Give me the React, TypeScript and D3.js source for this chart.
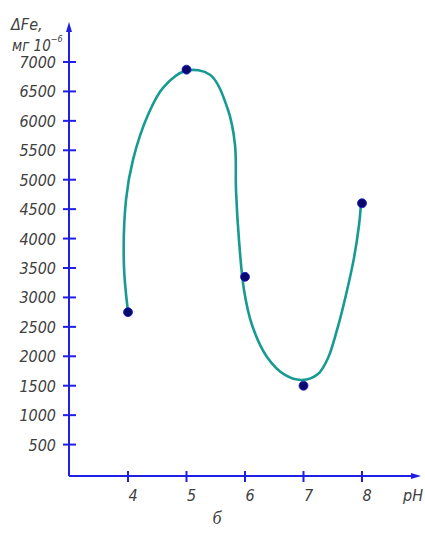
import React, { useEffect, useRef } from "react";
import * as d3 from "d3";

// measured points
const phValues = [4, 5, 6, 7, 8];
const feValues = [2750, 6870, 3350, 1500, 4600];

// hand drawn trend curve (pH, ΔFe)
const curvePh = [4.0, 3.93, 3.966, 4.085, 4.342, 4.598, 4.991, 5.402, 5.709, 5.829, 5.846, 5.897, 5.983, 6.12, 6.376, 6.684, 6.974, 7.248, 7.419, 7.573, 7.726, 7.863, 7.949, 7.983];
const curveFe = [2754, 3553, 4658, 5338, 6103, 6562, 6851, 6783, 6188, 5593, 4828, 3977, 3127, 2532, 1989, 1683, 1598, 1700, 1971, 2447, 3042, 3672, 4231, 4588];

const yTicks = [500, 1000, 1500, 2000, 2500, 3000, 3500, 4000, 4500, 5000, 5500, 6000, 6500, 7000];
const xTicks = [4, 5, 6, 7, 8];

const FONT = "'DejaVu Sans Condensed', 'Liberation Sans Narrow', sans-serif";
const AXIS = "#1f1fe6";
const TEXT = "#404040";

const App = () => {
  const ref = useRef<HTMLDivElement>(null);

  useEffect(() => {
    const el = ref.current;
    if (!el) return;
    const width = 425;
    const height = 533;
    d3.select(el).select("svg").remove();
    const svg = d3
      .select(el)
      .append("svg")
      .attr("width", width)
      .attr("height", height)
      .style("position", "absolute")
      .style("left", "0px")
      .style("top", "0px")
      .style("background", "#fff");

    const originX = 69;
    const originY = 476;
    const x = d3.scaleLinear().domain([4, 8]).range([128, 362]);
    const y = d3.scaleLinear().domain([0, 7000]).range([474, 62]);

    const label = (sel: any, size: number) =>
      sel
        .attr("font-family", FONT)
        .attr("font-style", "italic")
        .attr("font-size", size)
        .attr("fill", TEXT);

    // axes
    svg.append("line")
      .attr("x1", originX).attr("y1", originY)
      .attr("x2", originX).attr("y2", 30)
      .attr("stroke", AXIS).attr("stroke-width", 2);
    svg.append("path")
      .attr("d", `M${originX - 3},32 L${originX},22 L${originX + 3},32 Z`)
      .attr("fill", AXIS);
    svg.append("line")
      .attr("x1", originX).attr("y1", originY)
      .attr("x2", 413).attr("y2", originY)
      .attr("stroke", AXIS).attr("stroke-width", 2);
    svg.append("path")
      .attr("d", `M411,${originY - 3} L421,${originY} L411,${originY + 3} Z`)
      .attr("fill", AXIS);

    // y ticks
    const yg = svg.append("g");
    yg.selectAll("line")
      .data(yTicks)
      .enter()
      .append("line")
      .attr("x1", originX - 6).attr("x2", originX + 7)
      .attr("y1", (d) => y(d)).attr("y2", (d) => y(d))
      .attr("stroke", AXIS).attr("stroke-width", 2);
    label(
      yg.selectAll("text")
        .data(yTicks)
        .enter()
        .append("text")
        .attr("x", 56)
        .attr("y", (d) => y(d) + 6)
        .attr("text-anchor", "end"),
      16
    ).text((d) => d);

    // x ticks
    const xg = svg.append("g");
    xg.selectAll("line")
      .data(xTicks)
      .enter()
      .append("line")
      .attr("x1", (d) => x(d)).attr("x2", (d) => x(d))
      .attr("y1", originY - 5).attr("y2", originY + 6)
      .attr("stroke", AXIS).attr("stroke-width", 2);
    label(
      xg.selectAll("text")
        .data(xTicks)
        .enter()
        .append("text")
        .attr("x", (d) => x(d) + 5)
        .attr("y", 501)
        .attr("text-anchor", "middle"),
      16
    ).text((d) => d);

    label(svg.append("text").attr("x", 403).attr("y", 501), 16).text("pH");

    // axis title
    label(svg.append("text").attr("x", 11).attr("y", 30), 16).text("ΔFe,");
    const t2 = label(svg.append("text").attr("x", 12).attr("y", 51), 15);
    t2.append("tspan").text("мг 10");
    t2.append("tspan").attr("dy", -9).attr("font-size", 9).text("−6");

    // curve
    const curveData = curvePh.map((p, i) => [p, curveFe[i]] as [number, number]);
    const line = d3
      .line<[number, number]>()
      .x((d) => x(d[0]))
      .y((d) => y(d[1]))
      .curve(d3.curveCatmullRom.alpha(0.5));
    svg.append("path")
      .datum(curveData)
      .attr("d", line)
      .attr("fill", "none")
      .attr("stroke", "#169a91")
      .attr("stroke-width", 2.6)
      .attr("stroke-linecap", "round");

    // points
    svg.append("g")
      .selectAll("circle")
      .data(phValues)
      .enter()
      .append("circle")
      .attr("cx", (d) => x(d))
      .attr("cy", (d, i) => y(feValues[i]))
      .attr("r", 4.5)
      .attr("fill", "#0a0a6e")
      .attr("stroke", "#1a1ad0")
      .attr("stroke-width", 0.8);

    // caption
    svg.append("text")
      .attr("x", 217).attr("y", 524)
      .attr("text-anchor", "middle")
      .attr("font-family", "'Liberation Serif', serif").attr("font-style", "italic")
      .attr("font-size", 18).attr("fill", TEXT)
      .text("б");
  }, []);

  return <div ref={ref}></div>;
};

export default App;
